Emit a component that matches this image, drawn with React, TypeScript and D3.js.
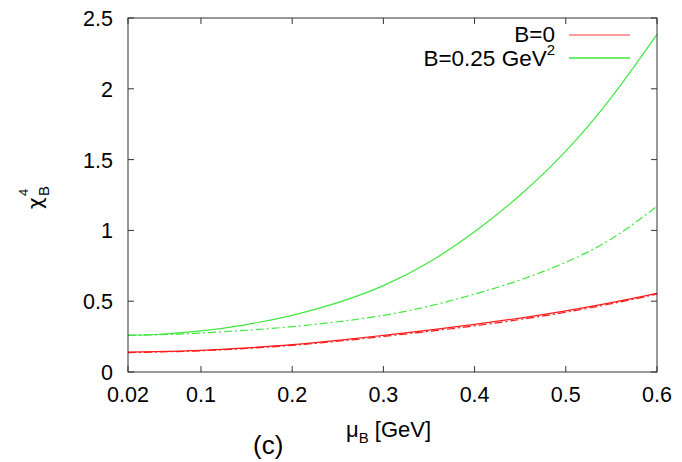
import React from "react";
import * as d3 from "d3";

const muB = [0.02, 0.05, 0.1, 0.15, 0.2, 0.25, 0.3, 0.35, 0.4, 0.45, 0.5, 0.55, 0.6];
const redSolid = [0.14, 0.144, 0.153, 0.17, 0.193, 0.224, 0.259, 0.296, 0.336, 0.381, 0.432, 0.49, 0.556];
const redDashDot = [0.137, 0.141, 0.15, 0.166, 0.188, 0.217, 0.251, 0.287, 0.326, 0.371, 0.422, 0.482, 0.55];
const greenSolid = [0.26, 0.265, 0.29, 0.335, 0.4, 0.49, 0.61, 0.775, 0.99, 1.25, 1.56, 1.94, 2.385];
const greenDashDot = [0.258, 0.262, 0.275, 0.295, 0.32, 0.355, 0.4, 0.465, 0.55, 0.65, 0.775, 0.94, 1.17];
const xTicks = [0.02, 0.1, 0.2, 0.3, 0.4, 0.5, 0.6];
const xTickLabels = ["0.02", "0.1", "0.2", "0.3", "0.4", "0.5", "0.6"];
const yTicks = [0, 0.5, 1, 1.5, 2, 2.5];
const yTickLabels = ["0", "0.5", "1", "1.5", "2", "2.5"];

const RED = "#ff1a1a";
const GREEN = "#3ee83e";
const FONT = "'Liberation Sans', Arial, Helvetica, sans-serif";

export default function App() {
  const W = 682, H = 462;
  const L = 128, R = 657, T = 18, B = 372;
  const x = d3.scaleLinear().domain([0.02, 0.6]).range([L, R]);
  const y = d3.scaleLinear().domain([0, 2.5]).range([B, T]);
  const line = (vals: number[]) =>
    d3.line<number>().x((_, i) => x(muB[i])).y((d) => y(d)).curve(d3.curveNatural)(vals) || "";
  const tl = 6;
  const dd = "8,3,2,3";
  return (
    <svg width={W} height={H} style={{ position: "absolute", left: 0, top: 0, background: "#fff" }} fontFamily={FONT}>
      <rect x={0} y={0} width={W} height={H} fill="#fff" />
      <path d={line(redDashDot)} fill="none" stroke={RED} strokeWidth={1.2} strokeDasharray={dd} />
      <path d={line(redSolid)} fill="none" stroke={RED} strokeWidth={1.2} />
      <path d={line(greenDashDot)} fill="none" stroke={GREEN} strokeWidth={1.2} strokeDasharray={dd} />
      <path d={line(greenSolid)} fill="none" stroke={GREEN} strokeWidth={1.2} />
      <rect x={L} y={T} width={R - L} height={B - T} fill="none" stroke="#333" strokeWidth={1} />
      {xTicks.map((t, i) => (
        <g key={"x" + i}>
          <line x1={x(t)} x2={x(t)} y1={B} y2={B - tl} stroke="#333" />
          <line x1={x(t)} x2={x(t)} y1={T} y2={T + tl} stroke="#333" />
          <text x={x(t)} y={402} fontSize={21.5} textAnchor="middle" fill="#000">{xTickLabels[i]}</text>
        </g>
      ))}
      {yTicks.map((t, i) => (
        <g key={"y" + i}>
          <line x1={L} x2={L + tl} y1={y(t)} y2={y(t)} stroke="#333" />
          <line x1={R} x2={R - tl} y1={y(t)} y2={y(t)} stroke="#333" />
          <text x={113} y={y(t) + 8} fontSize={21.5} textAnchor="end" fill="#000">{yTickLabels[i]}</text>
        </g>
      ))}
      <g transform="translate(42,209) rotate(-90)">
        <text x={0} y={0} fontSize={20} fontFamily="'DejaVu Sans', sans-serif" fill="#000">χ</text>
        <text x={13} y={6.5} fontSize={15} fill="#000">B</text>
        <text x={13} y={-14.5} fontSize={13} fill="#000">4</text>
      </g>
      <text x={346} y={437} fontSize={22} fill="#000">
        μ<tspan dy={6} fontSize={15}>B</tspan><tspan dy={-6}> [GeV]</tspan>
      </text>
      <text x={253} y={454} fontSize={26} fill="#000">(c)</text>
      <text x={555} y={42} fontSize={22.5} textAnchor="end" fill="#000">B=0</text>
      <line x1={569} x2={630} y1={35} y2={35} stroke="#ff7a7a" strokeWidth={1.3} />
      <text x={555} y={66} fontSize={22.5} textAnchor="end" fill="#000">
        B=0.25 GeV<tspan dy={-11} fontSize={15}>2</tspan>
      </text>
      <line x1={569} x2={630} y1={58} y2={58} stroke={GREEN} strokeWidth={1.3} />
    </svg>
  );
}
